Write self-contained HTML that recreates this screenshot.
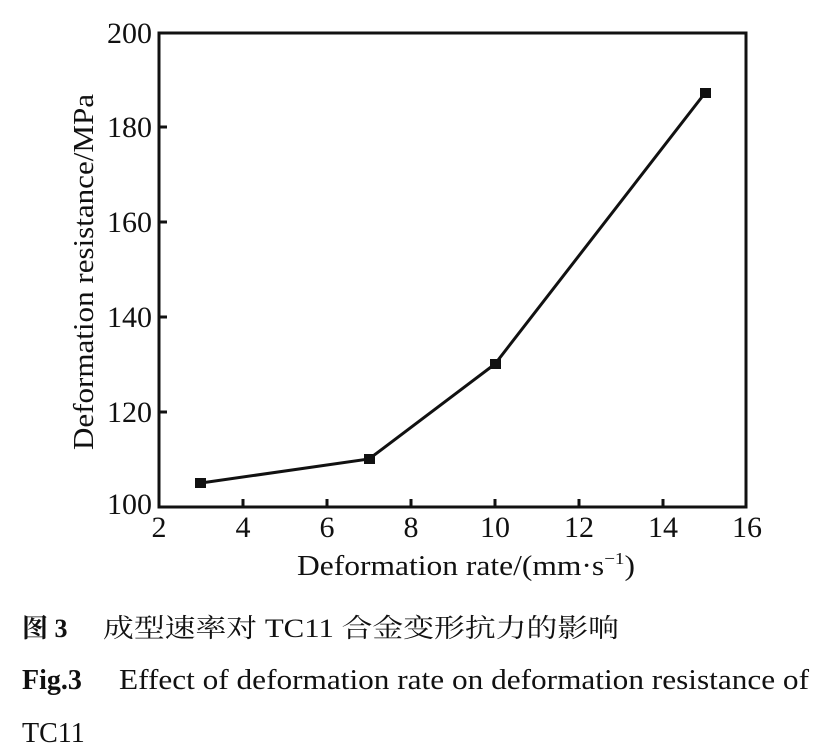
<!DOCTYPE html>
<html><head><meta charset="utf-8"><style>
body{margin:0;background:#fff;width:838px;height:754px;overflow:hidden}
svg{display:block}
text{font-family:"Liberation Serif","Noto Serif CJK SC",serif;fill:#111}
</style></head><body>
<svg width="838" height="754" viewBox="0 0 838 754">
<g stroke="#111" stroke-width="3" fill="none">
<rect x="159" y="33" width="587" height="474"/>
<path d="M243 507v-8M327 507v-8M411 507v-8M495 507v-8M579 507v-8M663 507v-8M159 412h8M159 317h8M159 222h8M159 127h8"/>
<polyline points="201,483 369,459 495,364 705,93"/>
</g>
<g fill="#111">
<rect x="195" y="478" width="11" height="10"/><rect x="364" y="454" width="11" height="10"/><rect x="490" y="359" width="11" height="10"/><rect x="700" y="88" width="11" height="10"/>
</g>
<g font-size="30" text-anchor="end">
<text x="152" y="43">200</text><text x="152" y="137">180</text><text x="152" y="232">160</text><text x="152" y="327">140</text><text x="152" y="422">120</text><text x="152" y="514">100</text>
</g>
<g font-size="30" text-anchor="middle">
<text x="159" y="537">2</text><text x="243" y="537">4</text><text x="327" y="537">6</text><text x="411" y="537">8</text><text x="495" y="537">10</text><text x="579" y="537">12</text><text x="663" y="537">14</text><text x="747" y="537">16</text>
</g>
<text x="297" y="575" font-size="28" textLength="338" lengthAdjust="spacingAndGlyphs">Deformation rate/(mm·s<tspan font-size="17" dy="-11">−1</tspan><tspan dy="11">)</tspan></text>
<text transform="translate(93,450) rotate(-90)" font-size="28" textLength="356" lengthAdjust="spacingAndGlyphs">Deformation resistance/MPa</text>
<text x="22" y="637" font-size="26" font-weight="bold" font-family="Liberation Serif, Noto Sans CJK SC, sans-serif">图 3</text>
<text x="103" y="637" font-size="26" textLength="516" lengthAdjust="spacingAndGlyphs">成型速率对 TC11 合金变形抗力的影响</text>
<text x="22" y="689" font-size="28" font-weight="bold">Fig.3</text>
<text x="119" y="689" font-size="28" textLength="690" lengthAdjust="spacingAndGlyphs">Effect of deformation rate on deformation resistance of</text>
<text x="22" y="742" font-size="28">TC11</text>
</svg>
</body></html>
